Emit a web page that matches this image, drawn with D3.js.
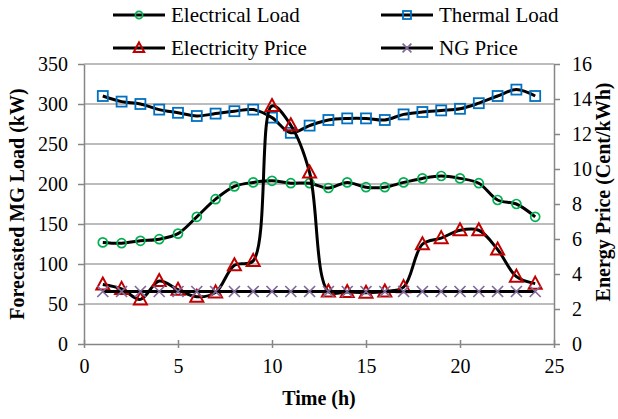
<!DOCTYPE html>
<html><head><meta charset="utf-8">
<script src="https://cdn.jsdelivr.net/npm/d3@7"></script>
<style>body{margin:0;background:#fff}svg{display:block}</style>
</head><body><svg id="c" width="618" height="419" font-family="Liberation Serif"></svg>
<script>
const hours = [1,2,3,4,5,6,7,8,9,10,11,12,13,14,15,16,17,18,19,20,21,22,23,24];
const electricalLoad = [127,126,129,131,138,159,181,197,202,204,201,201,195,202,196,196,202,207,210,207,201,180,175,159];
const thermalLoad = [310,303,300,293,289,285,288,291,293,283,264,273,280,282,282,280,287,290,292,294,301,310,318,310];
const electricityPrice = [3.4,3.15,2.55,3.6,3.1,2.7,2.95,4.5,4.75,13.6,12.5,9.8,3.0,2.97,2.93,3.0,3.25,5.7,6.05,6.5,6.5,5.4,3.85,3.45];
const ngPrice = [3,3,3,3,3,3,3,3,3,3,3,3,3,3,3,3,3,3,3,3,3,3,3,3];
const xTicks = [0,5,10,15,20,25];
const yLeftTicks = [0,50,100,150,200,250,300,350];
const yRightTicks = [0,2,4,6,8,10,12,14,16];

const FF = "Liberation Serif";
const svg = d3.select("#c");
const L = 84, R = 554, T = 64, B = 344;
const x = d3.scaleLinear().domain([0,25]).range([L,R]);
const yL = d3.scaleLinear().domain([0,350]).range([B,T]);
const yR = d3.scaleLinear().domain([0,16]).range([B,T]);
const grid = "#a6a6a6", axc = "#868686";

svg.append("g").selectAll("line").data(yLeftTicks.slice(1)).join("line")
  .attr("x1",L).attr("x2",R).attr("y1",d=>yL(d)).attr("y2",d=>yL(d))
  .attr("stroke",grid).attr("stroke-width",1.5);

function styleAxis(g){
  g.attr("font-family",FF).attr("font-size",20);
  g.select(".domain").attr("stroke",axc).attr("stroke-width",1.5);
  g.selectAll(".tick line").attr("stroke",axc).attr("stroke-width",1.5);
  g.selectAll(".tick text").attr("fill","#000").attr("font-family",FF);
}
svg.append("g").attr("transform",`translate(0,${B})`)
  .call(d3.axisBottom(x).tickValues(xTicks).tickSize(5).tickSizeOuter(0).tickPadding(10))
  .call(styleAxis).call(g=>g.selectAll(".tick line").attr("y1",-4).attr("y2",4));
svg.append("g").attr("transform",`translate(${L},0)`)
  .call(d3.axisLeft(yL).tickValues(yLeftTicks).tickSize(6).tickSizeOuter(0).tickPadding(10))
  .call(styleAxis);
svg.append("g").attr("transform",`translate(${R},0)`)
  .call(d3.axisRight(yR).tickValues(yRightTicks).tickSize(6).tickSizeOuter(0).tickPadding(12))
  .call(styleAxis);

function title(sel){ return sel.attr("font-family",FF).attr("font-size",20).attr("font-weight","bold").attr("text-anchor","middle").attr("fill","#000"); }
svg.append("text").call(title).attr("x",(L+R)/2).attr("y",405).text("Time (h)");
svg.append("text").call(title).attr("transform",`translate(24,${(T+B)/2}) rotate(-90)`).text("Forecasted MG Load (kW)");
svg.append("text").call(title).attr("transform",`translate(610,${(T+B)/2-12}) rotate(-90)`).text("Energy Price (Cent/kWh)");

const curve = d3.curveCatmullRom.alpha(0.5);
const series = [
  {name:"Electrical Load", vals:electricalLoad, y:yL, marker:"circle", color:"#00b050"},
  {name:"Thermal Load", vals:thermalLoad, y:yL, marker:"square", color:"#0070c0"},
  {name:"Electricity Price", vals:electricityPrice, y:yR, marker:"triangle", color:"#c00000"},
  {name:"NG Price", vals:ngPrice, y:yR, marker:"x", color:"#7f6a9a"}
];
function drawMarker(g, type, color, small){
  const k = small ? 0.8 : 1;
  if(type==="circle") g.append("circle").attr("r",4.5*k).attr("fill","none").attr("stroke",color).attr("stroke-width",1.7);
  else if(type==="square") g.append("rect").attr("x",-5*k).attr("y",-5*k).attr("width",10*k).attr("height",10*k).attr("fill","none").attr("stroke",color).attr("stroke-width",1.8);
  else if(type==="triangle") g.append("path").attr("d",`M0,${-7*k}L${6.5*k},${5*k}L${-6.5*k},${5*k}Z`).attr("fill","none").attr("stroke",color).attr("stroke-width",2);
  else g.append("path").attr("d",`M${-5.5*k},${-5.5*k}L${5.5*k},${5.5*k}M${-5.5*k},${5.5*k}L${5.5*k},${-5.5*k}`).attr("stroke",color).attr("stroke-width",1.7);
}
series.forEach(s=>{
  const line = d3.line().x((d,j)=>x(hours[j])).y(d=>s.y(d)).curve(curve);
  svg.append("path").datum(s.vals).attr("d",line).attr("fill","none").attr("stroke","#000").attr("stroke-width",3);
  s.vals.forEach((v,j)=>{
    const g = svg.append("g").attr("transform",`translate(${x(hours[j])},${s.y(v)})`);
    drawMarker(g, s.marker, s.color, false);
  });
});

const legPos = [[113,15],[381,15],[113,48],[381,48]];
series.forEach((s,i)=>{
  const [lx,ly] = legPos[i];
  svg.append("line").attr("x1",lx).attr("x2",lx+52).attr("y1",ly).attr("y2",ly).attr("stroke","#000").attr("stroke-width",3);
  const g = svg.append("g").attr("transform",`translate(${lx+26},${ly})`);
  drawMarker(g, s.marker, s.color, true);
  svg.append("text").attr("x",lx+58).attr("y",ly+7).attr("font-family",FF).attr("font-size",21).attr("fill","#000").text(s.name);
});
</script></body></html>
